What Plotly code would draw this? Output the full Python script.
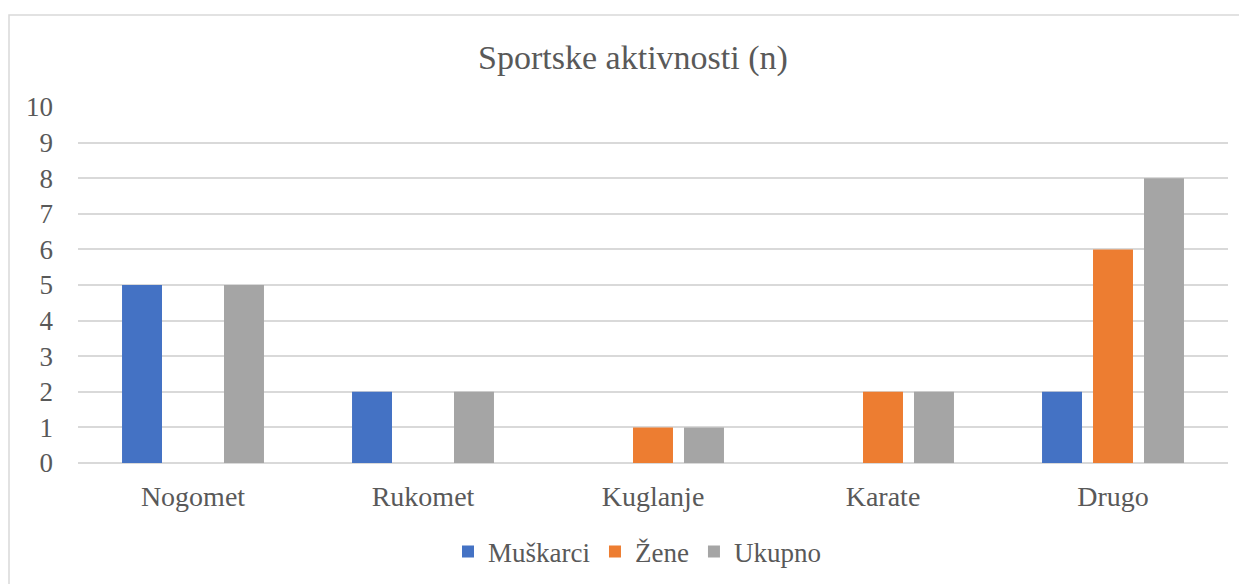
import plotly.graph_objects as go

# Data
categories = ["Nogomet", "Rukomet", "Kuglanje", "Karate", "Drugo"]
muskarci = [5, 2, 0, 0, 2]
zene = [0, 0, 1, 2, 6]
ukupno = [5, 2, 1, 2, 8]
y_ticks = list(range(0, 11))

FONT = "Liberation Serif, Times New Roman, serif"
TEXT_COL = "#595959"

fig = go.Figure()
fig.add_trace(go.Bar(x=categories, y=muskarci, name="Muškarci",
                     marker=dict(color="#4472C4", line=dict(width=0))))
fig.add_trace(go.Bar(x=categories, y=zene, name="Žene",
                     marker=dict(color="#ED7D31", line=dict(width=0))))
fig.add_trace(go.Bar(x=categories, y=ukupno, name="Ukupno",
                     marker=dict(color="#A5A5A5", line=dict(width=0))))

# chart outline (light gray frame)
fig.add_shape(type="rect", xref="paper", yref="paper",
              x0=-0.06, x1=1.0157, y0=-0.38, y1=1.2584,
              line=dict(color="#d9d9d9", width=1.5), layer="below")

fig.update_layout(
    width=1247, height=584,
    margin=dict(l=70, r=27, t=99, b=129),
    paper_bgcolor="white", plot_bgcolor="white",
    font=dict(family=FONT, color=TEXT_COL, size=28),
    title=dict(text="Sportske aktivnosti (n)", x=625 / 1247, xref="container",
               xanchor="center", y=1 - 49 / 584, yanchor="middle",
               font=dict(size=34, color=TEXT_COL, family=FONT)),
    barmode="group", bargap=0.335, bargroupgap=0.216,
    legend=dict(orientation="h", x=(629 - 70) / 1150, xanchor="center",
                y=-0.25, yanchor="middle", font=dict(size=27),
                itemwidth=30, traceorder="normal"),
    xaxis=dict(showgrid=False, zeroline=False, showline=False,
               ticks="", ticklabelstandoff=14, tickfont=dict(size=28)),
    yaxis=dict(range=[0, 10], tickvals=y_ticks, showgrid=True,
               gridcolor="#d9d9d9", gridwidth=1.5, zeroline=True,
               zerolinecolor="#d9d9d9", zerolinewidth=1.5,
               ticks="", ticklabelstandoff=24, tickfont=dict(size=27)),
)

fig.write_html("out.html")
